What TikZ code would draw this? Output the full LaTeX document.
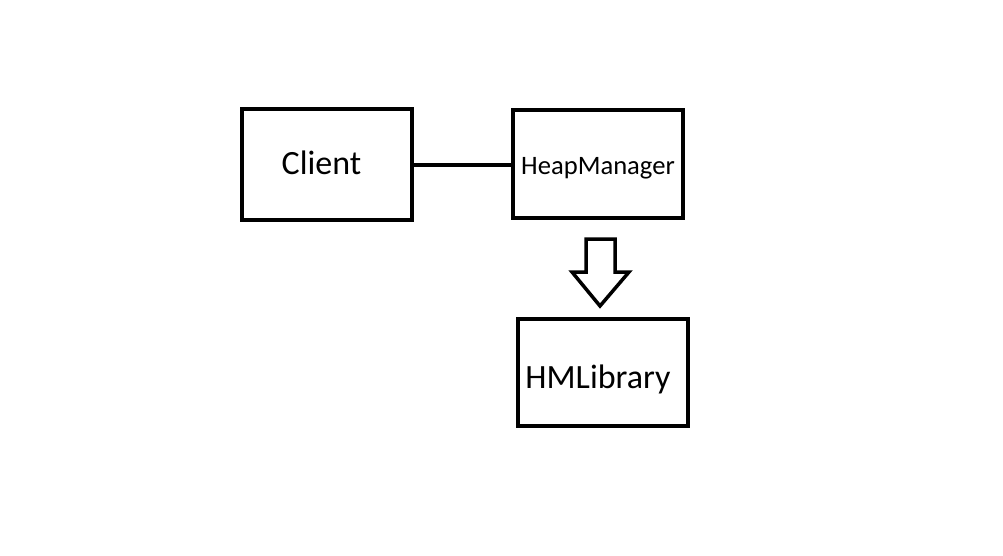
\documentclass[tikz,border=0pt]{standalone}
\usepackage{fontspec}
\setmainfont{Carlito}
\begin{document}
\begin{tikzpicture}[x=1pt,y=-1pt,
  box/.style={draw=black,line width=4.5pt,rectangle,minimum width=170pt,inner sep=0pt},
  lbl/.style={anchor=base,inner sep=0pt},
  conn/.style={draw=black,line width=4pt},
  blockarrow/.style={draw=black,line width=3.5pt,line join=miter,fill=white}]
\useasboundingbox (0,0) rectangle (1003,556);
\node[box,minimum height=111pt] (client) at (327,164.5) {};
\node[box,minimum height=108pt] (hm) at (598,164) {};
\node[box,minimum height=107pt] (lib) at (603,372.5) {};
\node[lbl,font=\fontsize{34}{40}\selectfont] (clientt) at (321.5,175) {Client};
\node[lbl,font=\fontsize{26.6}{32}\selectfont] (hmt) at (598,175) {HeapManager};
\node[lbl,font=\fontsize{34}{40}\selectfont] (libt) at (598,388) {HMLibrary};
\draw[conn] (client.east |- 0,165.5) -- (hm.west |- 0,165.5);
\draw[blockarrow] (586,239) -- (615,239) -- (615,272) -- (629,272) -- (600,306) -- (572,272) -- (586,272) -- cycle;
\end{tikzpicture}
\end{document}
